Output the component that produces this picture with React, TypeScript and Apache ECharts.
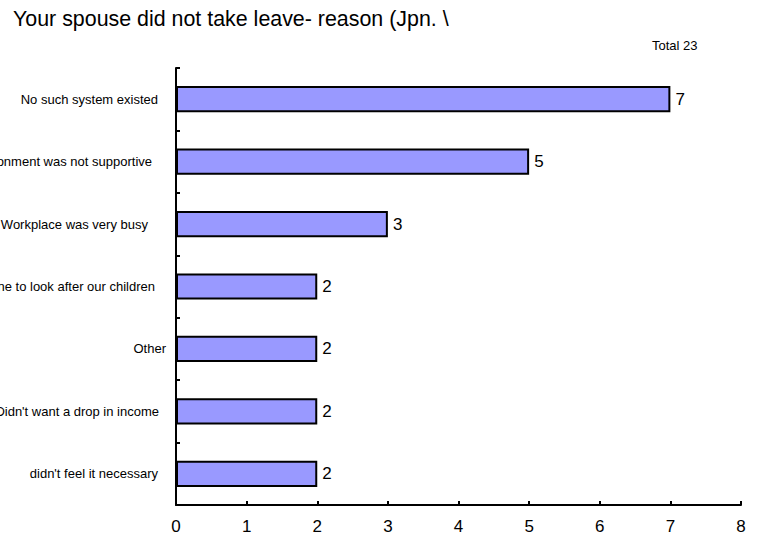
import React, { useEffect, useRef } from "react";
import * as echarts from "echarts";

const categories = [
  "No such system existed",
  "Workplace environment was not supportive",
  "Workplace was very busy",
  "There was someone to look after our children",
  "Other",
  "Didn't want a drop in income",
  "didn't feel it necessary",
];
const values = [7, 5, 3, 2, 2, 2, 2];
const titleText = "Your spouse did not take leave- reason (Jpn. \\";
const totalText = "Total 23";

// right-hand offsets of each category label (px), as in the reference
const labelOffsets = [8, 14, 18, 11, 0, 7, 8];

const FONT = "Liberation Sans, Arial, sans-serif";

export default function App() {
  const ref = useRef<HTMLDivElement>(null);
  useEffect(() => {
    if (!ref.current) return;
    const chart = echarts.init(ref.current, undefined, { renderer: "svg" });
    chart.setOption({
      animation: false,
      backgroundColor: "#ffffff",
      title: {
        text: titleText,
        left: 8,
        top: 3,
        textStyle: { fontFamily: FONT, fontSize: 21.4, fontWeight: "normal", color: "#000" },
      },
      graphic: [
        {
          type: "text",
          left: 652,
          top: 39,
          style: { text: totalText, fontFamily: FONT, fontSize: 13, fill: "#000" },
        },
      ],
      grid: {
        left: 176,
        right: 21,
        top: 68,
        bottom: 35,
        containLabel: false,
        outerBoundsMode: "none",
      },
      xAxis: {
        type: "value",
        min: 0,
        max: 8,
        interval: 1,
        axisLine: { show: true, lineStyle: { color: "#000", width: 2 } },
        axisTick: { show: true, inside: true, length: 4, lineStyle: { color: "#000", width: 2 } },
        splitLine: { show: false },
        axisLabel: { fontFamily: FONT, fontSize: 17, color: "#000", margin: 13 },
      },
      yAxis: {
        type: "category",
        data: categories.map((c, i) => ({
          value: c,
          textStyle: { padding: [0, labelOffsets[i], 0, 0] },
        })),
        inverse: true,
        axisLine: { show: true, lineStyle: { color: "#000", width: 2 } },
        axisTick: { show: true, inside: true, length: 4, lineStyle: { color: "#000", width: 2 } },
        axisLabel: { fontFamily: FONT, fontSize: 13, color: "#000", margin: 10 },
      },
      series: [
        {
          type: "bar",
          data: values,
          barWidth: "42%",
          itemStyle: { color: "#9999ff", borderColor: "#000", borderWidth: 2 },
          label: {
            show: true,
            position: "right",
            distance: 5,
            fontFamily: FONT,
            fontSize: 17,
            color: "#000",
          },
        },
      ],
    });
    return () => chart.dispose();
  }, []);
  return (
    <div
      ref={ref}
      style={{ position: "fixed", left: 0, top: 0, width: 762, height: 540 }}
    />
  );
}
